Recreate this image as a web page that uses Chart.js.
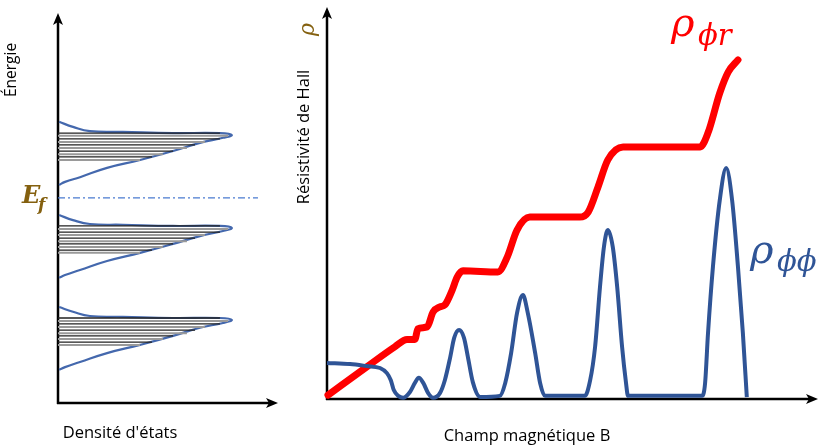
<!DOCTYPE html>
<html lang="fr">
<head>
<meta charset="UTF-8">
<title>Effet Hall quantique</title>
<script src="https://cdn.jsdelivr.net/npm/chart.js"></script>
<style>
  body { margin: 0; background: #fff; }
  #wrap { position: relative; width: 830px; height: 447px; overflow: hidden; }
  canvas { position: absolute; top: 0; }
  #dos { left: 0; }
  #hall { left: 290px; }
</style>
</head>
<body>
<div id="wrap">
  <canvas id="dos" width="290" height="447"></canvas>
  <canvas id="hall" width="540" height="447"></canvas>
</div>
<script>
// --- left panel: density of states (x, 0-100) against energy (y, 0-100)
const dosShape = [0.5, 6.8, 14.5, 29.5, 52.3, 73.6, 79, 75, 64.5, 52.3, 37.3, 22.3, 10, 3.2, 0.5];
const energyTop = [72.1, 70.8, 69.7, 69.5, 69.2, 69.2, 68.7, 68.0, 66.7, 64.6, 62.3, 60.3, 57.9, 56.7, 55.9];
const energyMid = [48.2, 46.9, 45.9, 45.7, 45.4, 45.4, 44.9, 44.1, 42.8, 40.8, 38.5, 36.4, 34.1, 32.8, 32.1];
const energyLow = [24.6, 23.4, 22.3, 22.1, 21.8, 21.8, 21.3, 20.5, 19.3, 17.2, 14.9, 12.8, 10.5, 9.2, 8.5];

// filled levels (hatching) under each peak
const hatchTop = [69.2, 68.5, 67.7, 66.9, 66.2, 65.4, 64.6, 63.8, 63.1, 62.3];
const hatchMid = [45.4, 44.6, 43.8, 43.1, 42.3, 41.5, 40.8, 40.0, 39.2, 38.5];
const hatchLow = [21.8, 21.0, 20.3, 19.5, 18.7, 17.9, 17.2, 16.4, 15.6, 14.9];
const hatchLen = [73.6, 77.3, 73.6, 66.8, 62.3, 58.6, 52.3, 47.7, 42.7, 37.3];

const fermiEnergy = 52.6;
const fermiEnd = 90.9;

// --- right panel: field B (x, 0-100) against resistivity (y, 0-100)
const hallB   = [0.2, 8.1, 13.8, 16.3, 17.9, 18.5, 20.4, 21.6, 23.0, 24.0, 25.5, 26.5, 27.7, 34.8, 36.7, 38.7, 41.3, 51.5, 53.2, 55.2, 57.2, 60.3, 76.0, 77.6, 80.0, 81.7, 83.7];
const hallRho = [1.0, 8.2, 13.3, 15.2, 15.2, 17.9, 18.4, 22.2, 23.5, 24.0, 27.8, 31.1, 32.7, 32.4, 36.2, 43.1, 46.4, 46.4, 47.7, 54.1, 61.0, 64.3, 64.3, 67.9, 78.1, 83.4, 86.5];

const longB   = [0, 4.7, 8.1, 10.8, 12.2, 13.0, 13.6, 14.5, 15.5, 16.9, 17.9, 18.7, 19.6, 20.6, 21.6,
                 23.0, 24.0, 25.1, 25.9, 26.9, 27.9, 28.7, 29.7, 31.2, 35.2, 36.3, 37.5, 38.7, 39.9,
                 40.9, 42.4, 43.4, 44.4, 52.5, 53.6, 54.6, 55.6, 56.4, 57.2, 58.2, 59.1, 60.1, 60.9,
                 61.3, 76.4, 77.0, 77.6, 78.6, 80.0, 81.3, 82.5, 83.7, 84.7, 85.5];
const longRho = [9.2, 8.9, 8.4, 7.9, 6.6, 4.8, 2.3, 0.8, 0.3, 1.8, 4.1, 5.4, 4.1, 1.5, 0.3,
                 1.5, 4.8, 10.7, 15.6, 17.6, 15.6, 10.7, 4.3, 0.5, 0.8, 4.1, 11.7, 21.9, 26.5,
                 21.9, 11.7, 4.1, 0.8, 0.8, 4.8, 13.3, 28.6, 38.8, 43.1, 38.8, 28.6, 13.3, 4.1,
                 0.8, 0.8, 4.0, 16.8, 33.7, 50.8, 58.9, 50.8, 33.7, 16.8, 0.5];

const CURVE_BLUE = '#4468ad';
const LONG_BLUE = '#2f5496';
const GOLD = '#84600f';

function pts(xs, ys) {
  return xs.map((x, i) => ({ x: x, y: ys[i] }));
}

// horizontal hatch segments, broken by null points
function hatch(levels, parity) {
  const out = [];
  levels.forEach((e, i) => {
    if (i % 2 !== parity) return;
    out.push({ x: 0, y: e }, { x: hatchLen[i], y: e }, { x: 0, y: null });
  });
  return out;
}

function drawArrow(ctx, x1, y1, x2, y2) {
  const a = Math.atan2(y2 - y1, x2 - x1);
  ctx.beginPath();
  ctx.moveTo(x1, y1);
  ctx.lineTo(x2 - 6 * Math.cos(a), y2 - 6 * Math.sin(a));
  ctx.stroke();
  ctx.save();
  ctx.translate(x2, y2);
  ctx.rotate(a);
  ctx.beginPath();
  ctx.moveTo(0, 0);
  ctx.lineTo(-12, -5);
  ctx.lineTo(-9, 0);
  ctx.lineTo(-12, 5);
  ctx.closePath();
  ctx.fill();
  ctx.restore();
}

function text(ctx, str, x, y, font, color, rot, align) {
  ctx.save();
  ctx.translate(x, y);
  if (rot) ctx.rotate(rot);
  ctx.font = font;
  ctx.fillStyle = color;
  ctx.textAlign = align || 'left';
  ctx.textBaseline = 'alphabetic';
  ctx.fillText(str, 0, 0);
  ctx.restore();
}

const axesPlugin = {
  id: 'arrowAxes',
  beforeDatasetsDraw(chart, args, opts) {
    const { ctx, chartArea: a } = chart;
    ctx.save();
    ctx.strokeStyle = '#000';
    ctx.fillStyle = '#000';
    ctx.lineWidth = 2.5;
    drawArrow(ctx, a.left, a.bottom + 1, a.left, a.top);
    drawArrow(ctx, a.left - 1, a.bottom, a.right, a.bottom);
    ctx.restore();
  },
  afterDraw(chart, args, opts) {
    if (opts.labels) opts.labels(chart.ctx);
  }
};

const common = {
  responsive: false,
  animation: false,
  events: [],
  plugins: { legend: { display: false }, tooltip: { enabled: false } },
  elements: { point: { radius: 0 } },
  scales: {
    x: { type: 'linear', display: false, min: 0, max: 100 },
    y: { type: 'linear', display: false, min: 0, max: 100 }
  }
};

function line(data, color, width, extra) {
  return Object.assign({ data: data, borderColor: color, borderWidth: width, fill: false,
    pointRadius: 0, clip: false, spanGaps: false }, extra || {});
}

new Chart(document.getElementById('dos'), {
  type: 'line',
  data: {
    datasets: [
      line(hatch(hatchTop, 1), '#9a9a9a', 2),
      line(hatch(hatchMid, 1), '#9a9a9a', 2),
      line(hatch(hatchLow, 1), '#9a9a9a', 2),
      line(hatch(hatchTop, 0), '#222', 1.3),
      line(hatch(hatchMid, 0), '#222', 1.3),
      line(hatch(hatchLow, 0), '#222', 1.3),
      line([{ x: 0, y: fermiEnergy }, { x: fermiEnd, y: fermiEnergy }], '#4a7bd0', 1.2,
        { borderDash: [7, 3, 2, 3] }),
      line(pts(dosShape, energyTop), CURVE_BLUE, 2.2, { tension: 0.45 }),
      line(pts(dosShape, energyMid), CURVE_BLUE, 2.2, { tension: 0.45 }),
      line(pts(dosShape, energyLow), CURVE_BLUE, 2.2, { tension: 0.45 })
    ]
  },
  options: Object.assign({}, common, {
    layout: { padding: { left: 58, right: 12, top: 13, bottom: 44 } },
    plugins: Object.assign({}, common.plugins, {
      arrowAxes: {
        labels(ctx) {
          text(ctx, 'Énergie', 16, 70, '15.5px "Open Sans"', '#000', -Math.PI / 2, 'center');
          text(ctx, 'Densité d\'états', 120, 438, '16.5px "Open Sans"', '#000', 0, 'center');
          text(ctx, 'E', 22, 203, 'bold italic 24px "DejaVu Serif"', GOLD);
          text(ctx, 'f', 38, 210, 'bold italic 17px "DejaVu Serif"', GOLD);
        }
      }
    })
  }),
  plugins: [axesPlugin]
});

new Chart(document.getElementById('hall'), {
  type: 'line',
  data: {
    datasets: [
      line(pts(longB, longRho), LONG_BLUE, 4, { cubicInterpolationMode: 'monotone' }),
      line(pts(hallB, hallRho), '#ff0000', 7, { cubicInterpolationMode: 'monotone',
        borderCapStyle: 'round', borderJoinStyle: 'round' })
    ]
  },
  options: Object.assign({}, common, {
    layout: { padding: { left: 37, right: 12, top: 7, bottom: 48 } },
    plugins: Object.assign({}, common.plugins, {
      arrowAxes: {
        labels(ctx) {
          text(ctx, 'Résistivité de Hall', 19, 137, '16.5px "Open Sans"', '#000', -Math.PI / 2, 'center');
          text(ctx, 'ρ', 24, 36, 'italic 22px "DejaVu Serif"', GOLD, -Math.PI / 2, 'left');
          text(ctx, 'Champ magnétique B', 237, 441, '16.5px "Open Sans"', '#000', 0, 'center');
          text(ctx, 'ρ', 381, 36, 'italic 40px "DejaVu Serif"', '#ff0000');
          text(ctx, 'ϕr', 408, 45, 'italic 29px "DejaVu Serif"', '#ff0000');
          text(ctx, 'ρ', 460, 263, 'italic 40px "DejaVu Serif"', LONG_BLUE);
          text(ctx, 'ϕϕ', 487, 271, 'italic 29px "DejaVu Serif"', LONG_BLUE);
        }
      }
    })
  }),
  plugins: [axesPlugin]
});
</script>
</body>
</html>
